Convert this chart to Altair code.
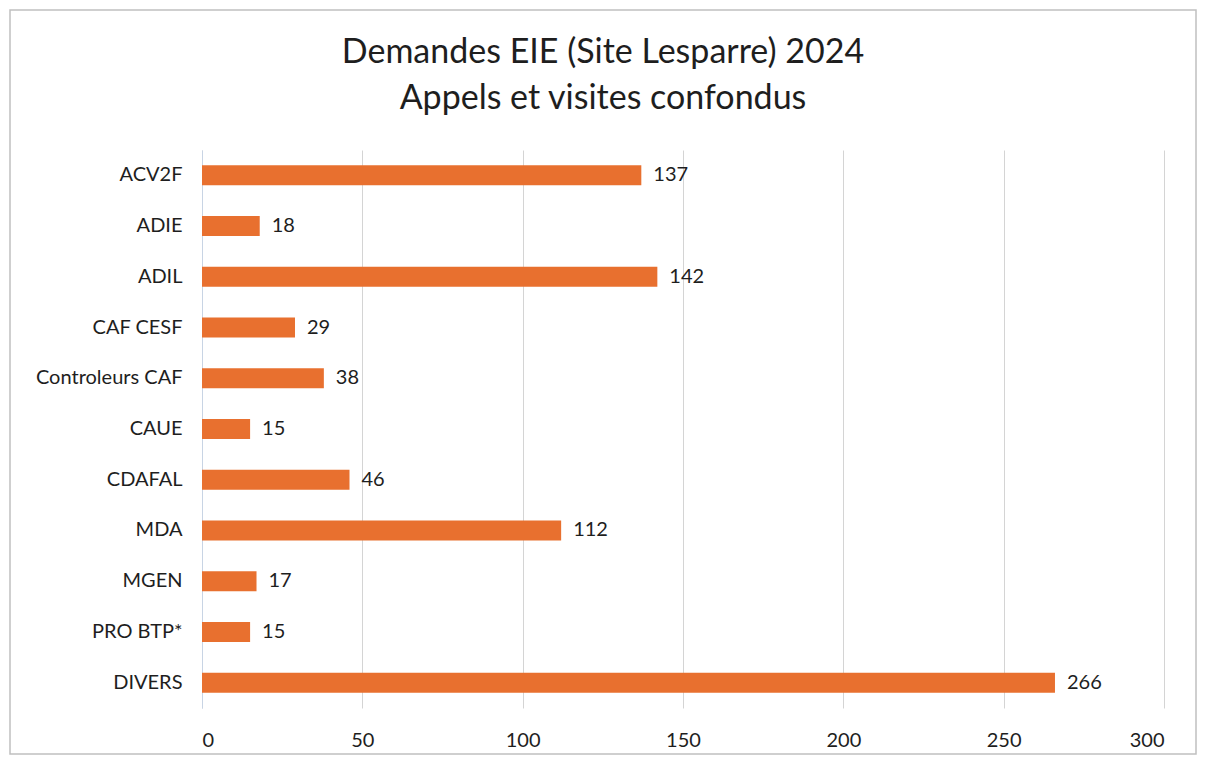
import altair as alt
import pandas as pd

categories = ["ACV2F", "ADIE", "ADIL", "CAF CESF", "Controleurs CAF", "CAUE",
              "CDAFAL", "MDA", "MGEN", "PRO BTP*", "DIVERS"]
values = [137, 18, 142, 29, 38, 15, 46, 112, 17, 15, 266]
x_ticks = [0, 50, 100, 150, 200, 250, 300]
title_lines = ["Demandes EIE (Site Lesparre) 2024", "Appels et visites confondus"]

df = pd.DataFrame({"cat": categories, "val": values})

FONT = "Lato, Open Sans, sans-serif"
W, H = 962, 558
TXT = "#1e1e1e"

x_enc = alt.X("val:Q", scale=alt.Scale(domain=[0, 300], nice=False),
              axis=alt.Axis(values=x_ticks, title=None, grid=True, gridColor="#d4d4d4",
                            domain=False, ticks=False, labelPadding=22,
                            labelFontSize=20, labelColor=TXT, labelFont=FONT))
y_enc = alt.Y("cat:N", sort=categories,
              axis=alt.Axis(title=None, domain=True, domainColor="#c8d4e4", ticks=False,
                            labelPadding=20, labelFontSize=20, labelColor=TXT,
                            labelFont=FONT))

bars = alt.Chart(df).mark_bar(color="#E8702F", size=20).encode(x=x_enc, y=y_enc)
labels = alt.Chart(df).mark_text(align="left", baseline="middle", dx=12, fontSize=20,
                                 font=FONT, color=TXT).encode(
    x="val:Q", y=alt.Y("cat:N", sort=categories), text="val:Q")

one = pd.DataFrame({"a": [0]})
frame = alt.Chart(one).mark_rect(
    fill=None, stroke="#c0c0c0", strokeWidth=1.5).encode(
    x=alt.value(-192), x2=alt.value(994), y=alt.value(-140), y2=alt.value(604))

t1 = alt.Chart(one).mark_text(fontSize=34, font=FONT, color=TXT, align="center",
                              baseline="middle").encode(
    x=alt.value(401), y=alt.value(-97), text=alt.value(title_lines[0]))
t2 = alt.Chart(one).mark_text(fontSize=34, font=FONT, color=TXT, align="center",
                              baseline="middle").encode(
    x=alt.value(401), y=alt.value(-51), text=alt.value(title_lines[1]))

chart = alt.layer(frame, bars, labels, t1, t2).properties(
    width=W, height=H,
    background="white",
    autosize=alt.AutoSizeParams(type="none"),
    padding={"left": 194, "top": 142, "right": 34, "bottom": 48},
).configure_view(stroke="transparent")

chart.save("out.html", embed_options={"renderer": "svg", "actions": False})
